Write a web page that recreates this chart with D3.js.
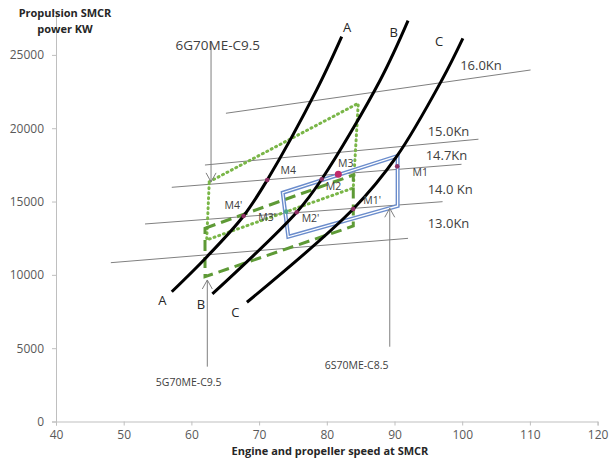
<!DOCTYPE html>
<html>
<head>
<meta charset="utf-8">
<script src="https://cdn.jsdelivr.net/npm/d3@7"></script>
<style>
  body { margin: 0; background: #fff; }
  svg { display: block; }
  text { font-family: "Open Sans", sans-serif; }
</style>
</head>
<body>
<div id="container"></div>
<script>
// ---------------- data ----------------
var xTicks = [40, 50, 60, 70, 80, 90, 100, 110, 120];
var yTicks = [0, 5000, 10000, 15000, 20000, 25000];

// propeller curves (rpm, kW)
var curveA = [[57.1, 8850], [62.3, 11240], [67.7, 14015], [71.2, 16470], [78.5, 22610], [82.2, 26240]];
var curveB = [[63.1, 8700], [75.55, 14270], [79.25, 16520], [87.9, 23290], [92.0, 27335]];
var curveC = [[68.2, 8130], [83.9, 14490], [90.3, 18060], [97.0, 23290], [100.1, 26130]];
var curveNames = ["A", "B", "C"];
var curveLabelLow = [[55.7, 8250], [61.4, 7960], [66.5, 7460]];
var curveLabelHigh = [[83.0, 26900], [89.9, 26560], [96.6, 25920]];

// ship speed lines
var speedNames = ["16.0Kn", "15.0Kn", "14.7Kn", "14.0 Kn", "13.0Kn"];
var speedStart = [[65.1, 21020], [62.0, 17490], [57.1, 15970], [53.15, 13470], [48.1, 10830]];
var speedEnd = [[110.1, 23970], [102.4, 19250], [99.9, 17540], [97.1, 14990], [92.0, 12490]];
var speedLabelAt = [[99.7, 24310], [94.9, 19810], [94.6, 18110], [94.9, 15840], [94.9, 13520]];

// engine layout diagrams
var layout6G = [[62.64, 16350], [84.65, 21700], [83.91, 15925], [62.26, 12380]];
var layout5G = [[62.01, 13180], [83.91, 16810], [83.91, 13330], [62.01, 9875]];
var layout6S = [[73.49, 15600], [90.46, 18110], [90.46, 14700], [74.31, 12600]];

// matching points
var mNames = ["M1", "M1'", "M2", "M2'", "M3", "M3'", "M4", "M4'"];
var mPoints = [[90.4, 17400], [83.9, 14490], [79.25, 16520], [75.55, 14270], [81.7, 16860], [74.0, 14310], [71.2, 16470], [67.7, 14015]];
var mLabelAt = [[93.8, 16990], [86.7, 15100], [81.0, 16010], [77.6, 13860], [82.8, 17610], [71.2, 13930], [74.3, 17110], [66.2, 14770]];

// engine annotations
var engineNames = ["6G70ME-C9.5", "5G70ME-C9.5", "6S70ME-C8.5"];
var arrowFrom = [[62.9, 25880], [62.35, 3740], [89.3, 5100]];
var arrowTo = [[62.9, 16340], [62.35, 9650], [89.3, 14540]];
var engineLabelAt = [[63.9, 25680], [59.6, 2650], [84.4, 3860]];

// ---------------- layout ----------------
var width = 609, height = 461;
var svg = d3.select("#container").append("svg")
  .attr("width", width).attr("height", height);

var xScale = d3.scaleLinear().domain([40, 120]).range([56, 597.6]);
var yScale = d3.scaleLinear().domain([0, 28000]).range([421.5, 10.9]);

var px = function(d) { return xScale(d[0]); };
var py = function(d) { return yScale(d[1]); };

// arrow marker
var defs = svg.append("defs");
defs.append("marker")
  .attr("id", "arr")
  .attr("markerUnits", "userSpaceOnUse")
  .attr("markerWidth", 14).attr("markerHeight", 14)
  .attr("refX", 10).attr("refY", 6)
  .attr("orient", "auto")
  .append("path")
  .attr("d", "M1,1 L10,6 L1,11")
  .attr("fill", "none")
  .attr("stroke", "#7f7f7f")
  .attr("stroke-width", 1);

// ---------------- axes ----------------
var xAxis = d3.axisBottom(xScale).tickValues(xTicks).tickSize(4).tickPadding(5);
var yAxis = d3.axisLeft(yScale).tickValues(yTicks).tickFormat(d3.format("d"))
  .tickSize(4).tickPadding(8);

var gx = svg.append("g").attr("transform", "translate(0," + yScale(0) + ")").call(xAxis);
var gy = svg.append("g").attr("transform", "translate(" + xScale(40) + ",0)").call(yAxis);
[gx, gy].forEach(function(g) {
  g.select(".domain").attr("stroke", "#bfbfbf");
  g.selectAll(".tick line").attr("stroke", "#bfbfbf");
  g.selectAll(".tick text").attr("fill", "#595959")
    .style("font-size", "12px").style("font-family", "Open Sans, sans-serif");
});

svg.append("text")
  .attr("x", 330).attr("y", 455)
  .attr("text-anchor", "middle")
  .style("font-size", "11px").style("font-weight", "bold").attr("fill", "#262626")
  .text("Engine and propeller speed at SMCR");

svg.append("text")
  .attr("x", 65).attr("y", 17)
  .attr("text-anchor", "middle")
  .style("font-size", "11px").style("font-weight", "bold").attr("fill", "#262626")
  .text("Propulsion SMCR");
svg.append("text")
  .attr("x", 65).attr("y", 33)
  .attr("text-anchor", "middle")
  .style("font-size", "11px").style("font-weight", "bold").attr("fill", "#262626")
  .text("power  KW");

// ---------------- speed lines ----------------
speedNames.forEach(function(name, i) {
  svg.append("line")
    .attr("x1", px(speedStart[i])).attr("y1", py(speedStart[i]))
    .attr("x2", px(speedEnd[i])).attr("y2", py(speedEnd[i]))
    .attr("stroke", "#808080").attr("stroke-width", 1);
  svg.append("text")
    .attr("x", px(speedLabelAt[i])).attr("y", py(speedLabelAt[i]))
    .attr("dy", "0.35em")
    .style("font-size", "13px").attr("fill", "#404040")
    .text(name);
});

// ---------------- layout diagrams ----------------
var poly = d3.line().x(px).y(py);

svg.append("path")
  .attr("d", poly(layout6G) + "Z")
  .attr("fill", "none").attr("stroke", "#7ab648")
  .attr("stroke-width", 3).attr("stroke-dasharray", "1,4")
  .attr("stroke-linecap", "round");

svg.append("path")
  .attr("d", poly(layout5G) + "Z")
  .attr("fill", "none").attr("stroke", "#5e9a36")
  .attr("stroke-width", 3).attr("stroke-dasharray", "11,6");

svg.append("path")
  .attr("d", poly(layout6S) + "Z")
  .attr("fill", "none").attr("stroke", "#6a8ccc").attr("stroke-width", 4);
svg.append("path")
  .attr("d", poly(layout6S) + "Z")
  .attr("fill", "none").attr("stroke", "#ffffff").attr("stroke-width", 1.2);

// ---------------- propeller curves ----------------
var curveLine = d3.line().x(px).y(py).curve(d3.curveCatmullRom);
[curveA, curveB, curveC].forEach(function(c, i) {
  svg.append("path")
    .attr("d", curveLine(c))
    .attr("fill", "none").attr("stroke", "#000").attr("stroke-width", 3);
  svg.append("text")
    .attr("x", px(curveLabelLow[i])).attr("y", py(curveLabelLow[i]))
    .attr("text-anchor", "middle").attr("dy", "0.35em")
    .style("font-size", "13px").attr("fill", "#262626")
    .text(curveNames[i]);
  svg.append("text")
    .attr("x", px(curveLabelHigh[i])).attr("y", py(curveLabelHigh[i]))
    .attr("text-anchor", "middle").attr("dy", "0.35em")
    .style("font-size", "13px").attr("fill", "#262626")
    .text(curveNames[i]);
});

// ---------------- arrows + engine labels ----------------
engineNames.forEach(function(name, i) {
  svg.append("line")
    .attr("x1", px(arrowFrom[i])).attr("y1", py(arrowFrom[i]))
    .attr("x2", px(arrowTo[i])).attr("y2", py(arrowTo[i]))
    .attr("stroke", "#7f7f7f").attr("stroke-width", 1)
    .attr("marker-end", "url(#arr)");
});
svg.append("text")
  .attr("x", px(engineLabelAt[0])).attr("y", py(engineLabelAt[0]))
  .attr("text-anchor", "middle").attr("dy", "0.35em")
  .style("font-size", "13.5px").attr("fill", "#404040")
  .text(engineNames[0]);
[1, 2].forEach(function(i) {
  svg.append("text")
    .attr("x", px(engineLabelAt[i])).attr("y", py(engineLabelAt[i]))
    .attr("text-anchor", "middle").attr("dy", "0.35em")
    .style("font-size", "10.5px").attr("fill", "#404040")
    .text(engineNames[i]);
});

// ---------------- matching points ----------------
mNames.forEach(function(name, i) {
  svg.append("circle")
    .attr("cx", px(mPoints[i])).attr("cy", py(mPoints[i]))
    .attr("r", name === "M3" ? 3.5 : 2.3)
    .attr("fill", name === "M3'" ? "#4aa58a" : (name === "M3" ? "#c02a6a" : "#8e2f64"));
  svg.append("text")
    .attr("x", px(mLabelAt[i])).attr("y", py(mLabelAt[i]))
    .attr("text-anchor", "middle").attr("dy", "0.35em")
    .style("font-size", "10.5px").attr("fill", "#404040")
    .text(name);
});
</script>
</body>
</html>
